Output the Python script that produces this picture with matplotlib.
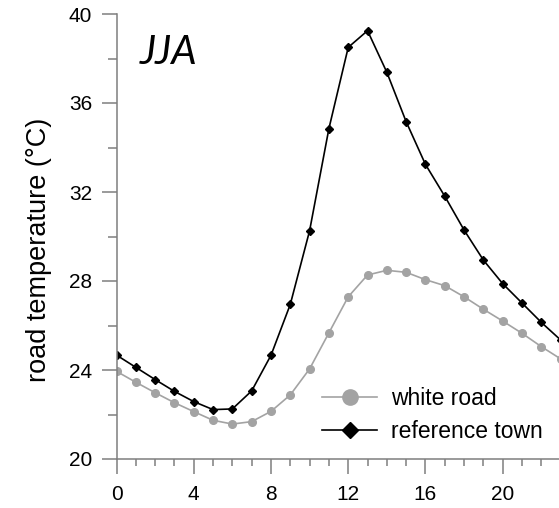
import numpy as np
import matplotlib
matplotlib.use("Agg")
import matplotlib.pyplot as plt
from matplotlib.ticker import MultipleLocator

plt.rcParams['font.family'] = ['Liberation Sans', 'DejaVu Sans']

# hourly mean road temperature, JJA
hours = np.arange(0, 24)
white_road = [23.94, 23.45, 22.98, 22.53, 22.13, 21.74, 21.57, 21.68, 22.14, 22.88,
              24.05, 25.67, 27.29, 28.27, 28.48, 28.39, 28.06, 27.79, 27.29, 26.73,
              26.20, 25.65, 25.05, 24.50]
reference_town = [24.67, 24.12, 23.57, 23.04, 22.58, 22.22, 22.25, 23.06, 24.66, 26.95,
                  30.26, 34.85, 38.50, 39.25, 37.38, 35.16, 33.24, 31.81, 30.29, 28.94,
                  27.88, 27.01, 26.14, 25.35]
season = "JJA"

grey = "#a3a3a3"
axis_grey = "#7f7f7f"

fig = plt.figure(figsize=(5.59, 5.08), dpi=100)
ax = fig.add_axes([116.5 / 559, 1 - 459 / 508, 1 - 116.5 / 559, (459 - 14) / 508])

ax.plot(hours, white_road, color=grey, lw=1.2, marker='o', ms=5.5,
        mec=grey, mfc=grey, label="white road")
ax.plot(hours, reference_town, color="black", lw=1.2, marker='D', ms=4.2,
        mec="black", mfc="black", label="reference town")

ax.set_xlim(0, (559 - 116.5) / 19.31)
ax.set_ylim(20, 40)

ax.xaxis.set_major_locator(MultipleLocator(4))
ax.xaxis.set_minor_locator(MultipleLocator(1))
ax.yaxis.set_major_locator(MultipleLocator(4))
ax.yaxis.set_minor_locator(MultipleLocator(2))

for s in ['top', 'right']:
    ax.spines[s].set_visible(False)
for s in ['left', 'bottom']:
    ax.spines[s].set_color(axis_grey)
    ax.spines[s].set_linewidth(1.1)

ax.tick_params(axis='y', which='major', length=11, width=1.1, color=axis_grey,
               labelsize=15, pad=6.5)
ax.tick_params(axis='y', which='minor', length=6.5, width=1.1, color=axis_grey)
ax.tick_params(axis='x', which='major', length=11, width=1.1, color=axis_grey,
               labelsize=15, pad=8)
ax.tick_params(axis='x', which='minor', length=5, width=1.1, color=axis_grey)

ax.set_ylabel("road temperature (°C)", fontsize=19.5)
ax.yaxis.set_label_coords(-0.145, 0.47)

ax.text(0.053, 0.888, season, transform=ax.transAxes, fontsize=29,
        family='Lato', style='italic', va='baseline', ha='left')

ax.legend(loc='lower left', bbox_to_anchor=(0.444, 0.016), frameon=False,
          fontsize=16.5, handlelength=2.4, handletextpad=0.6, labelspacing=0.42,
          markerscale=2.0, borderaxespad=0)

fig.savefig("out.png", dpi=100)
